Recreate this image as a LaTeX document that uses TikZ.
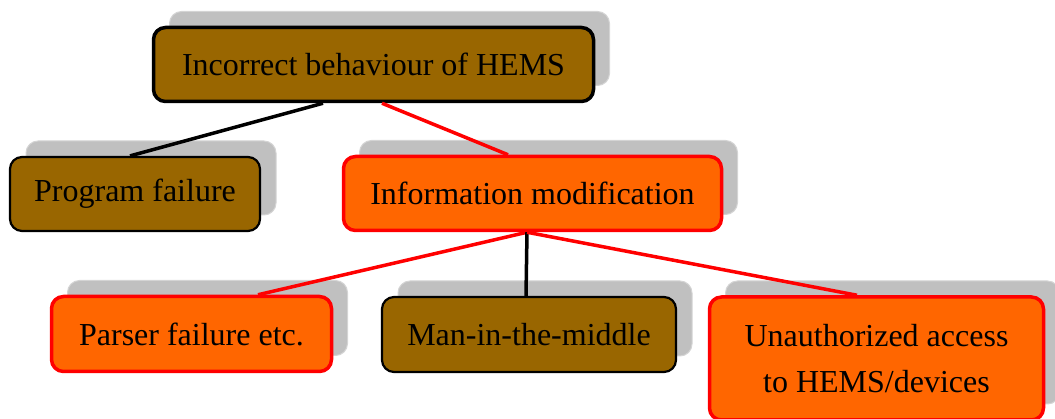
\documentclass[tikz,border=0pt]{standalone}
\usepackage{fontspec}
\setmainfont{Liberation Serif}
\usetikzlibrary{shadows}
\definecolor{brownfill}{HTML}{996600}
\definecolor{orangefill}{HTML}{FF6600}
\definecolor{redline}{HTML}{FF0000}
\definecolor{shadowfill}{HTML}{C0C0C0}
\definecolor{shadowedge}{HTML}{D4D4D4}
\tikzset{
  box/.style={rectangle, rounded corners=12pt, inner sep=0pt, align=center,
    font=\fontsize{32}{46}\selectfont, text=black,
    general shadow={shadow xshift=16pt, shadow yshift=16pt,
      fill=shadowfill, draw=shadowedge, line width=1pt}},
  brownbox/.style={box, fill=brownfill, draw=black, line width=2.2pt},
  rootbox/.style={box, fill=brownfill, draw=black, line width=3.5pt},
  orangebox/.style={box, fill=orangefill, draw=redline, line width=3.5pt},
  blackedge/.style={draw=black, line width=3.5pt},
  rededge/.style={draw=redline, line width=3.5pt},
}
\begin{document}
\begin{tikzpicture}[x=1pt, y=-1pt]
  \useasboundingbox (0,0) rectangle (1055,419);

  % threat tree nodes
  \node[rootbox, minimum width=440pt, minimum height=74pt] (root) at (373.5,64.5)
    {Incorrect behaviour of HEMS};
  \node[brownbox, minimum width=250pt, minimum height=74pt] (prog) at (135,194)
    {Program failure};
  \node[orangebox, minimum width=378pt, minimum height=74pt] (info) at (532.5,193.5)
    {Information modification};
  \node[orangebox, minimum width=280pt, minimum height=75pt] (parser) at (191.5,334)
    {Parser failure etc.};
  \node[brownbox, minimum width=294pt, minimum height=75pt] (mitm) at (529,334.5)
    {Man-in-the-middle};
  \node[orangebox, minimum width=334pt, minimum height=123pt] (unauth) at (876.5,358.5)
    {Unauthorized access\\to HEMS/devices};

  % connectors, drawn over the shadows
  \draw[blackedge] ([xshift=-50.5pt]root.south) -- ([xshift=-5pt]prog.north);
  \draw[rededge] ([xshift=8.5pt]root.south) -- ([xshift=-24.5pt]info.north);
  \draw[rededge] ([xshift=-5.5pt]info.south) -- ([xshift=66.5pt]parser.north);
  \draw[blackedge] ([xshift=-5.5pt]info.south) -- ([xshift=-3pt]mitm.north);
  \draw[rededge] ([xshift=-5.5pt]info.south) -- ([xshift=-19.5pt]unauth.north);
\end{tikzpicture}
\end{document}
